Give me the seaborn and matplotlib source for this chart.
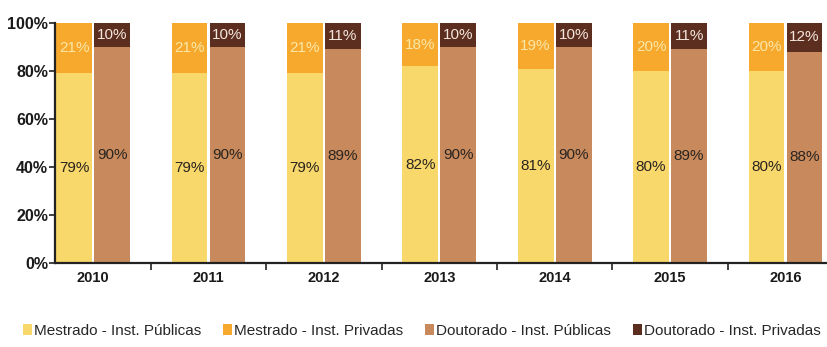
import matplotlib
matplotlib.use("Agg")
import matplotlib.pyplot as plt
import seaborn as sns
import pandas as pd
import numpy as np
from matplotlib.patches import Patch
from matplotlib.ticker import FixedLocator

years = ["2010", "2011", "2012", "2013", "2014", "2015", "2016"]
mestrado_publicas = [79, 79, 79, 82, 81, 80, 80]
mestrado_privadas = [21, 21, 21, 18, 19, 20, 20]
doutorado_publicas = [90, 90, 89, 90, 90, 89, 88]
doutorado_privadas = [10, 10, 11, 10, 10, 11, 12]
series_labels = ["Mestrado - Inst. Públicas", "Mestrado - Inst. Privadas",
                 "Doutorado - Inst. Públicas", "Doutorado - Inst. Privadas"]
yticks = [0, 20, 40, 60, 80, 100]

c_mpub = "#F8D86A"
c_mpriv = "#F6A92C"
c_dpub = "#C88A5C"
c_dpriv = "#5C2E1F"

sns.set_theme(style="white")
plt.rcParams["font.family"] = ["Liberation Sans Narrow", "Liberation Sans", "DejaVu Sans"]

rows = []
for i, y in enumerate(years):
    rows.append(dict(ano=y, nivel="Mestrado", pub=mestrado_publicas[i], priv=mestrado_privadas[i]))
    rows.append(dict(ano=y, nivel="Doutorado", pub=doutorado_publicas[i], priv=doutorado_privadas[i]))
df = pd.DataFrame(rows)
df["total"] = df["pub"] + df["priv"]

fig = plt.figure(figsize=(8.27, 3.47), dpi=100)
ax = fig.add_axes([0.0665, 0.242, 0.9335, 0.692])

sns.barplot(data=df, x="ano", y="total", hue="nivel", hue_order=["Mestrado", "Doutorado"],
            palette=[c_mpriv, c_dpriv], width=0.66, gap=0.06, ax=ax, legend=False,
            saturation=1, errorbar=None, linewidth=0)
sns.barplot(data=df, x="ano", y="pub", hue="nivel", hue_order=["Mestrado", "Doutorado"],
            palette=[c_mpub, c_dpub], width=0.66, gap=0.06, ax=ax, legend=False,
            saturation=1, errorbar=None, linewidth=0)

tot_m, tot_d, pub_m, pub_d = ax.containers[0], ax.containers[1], ax.containers[2], ax.containers[3]

for cont, pubs, privs, pcol, qcol in [
    (pub_m, mestrado_publicas, mestrado_privadas, "#2a2420", "#FBE7A8"),
    (pub_d, doutorado_publicas, doutorado_privadas, "#2a2420", "#F3E6DC"),
]:
    for patch, p, q in zip(cont.patches, pubs, privs):
        cx = patch.get_x() + patch.get_width() / 2
        ax.text(cx, p / 2, f"{p}%", ha="center", va="center", fontsize=11, color=pcol)
        ax.text(cx, p + q / 2, f"{q}%", ha="center", va="center", fontsize=11, color=qcol)

ax.set_ylim(0, 100)
ax.set_xlim(-0.33, 6.36)
ax.set_yticks(yticks)
ax.set_yticklabels([f"{t}%" for t in yticks], fontsize=11.5, fontweight="bold", color="#1a1a1a")
ax.set_xticks(range(len(years)))
ax.set_xticklabels(years, fontsize=10.5, fontweight="bold", color="#1a1a1a")
ax.xaxis.set_minor_locator(FixedLocator(np.arange(0.5, len(years) - 0.5, 1)))
ax.tick_params(axis="x", which="major", length=0, pad=6)
ax.tick_params(axis="x", which="minor", length=5, width=1.2, color="#222222", direction="out", bottom=True)
ax.tick_params(axis="y", length=4, width=1.2, color="#222222", direction="out", left=True, pad=1)
ax.set_xlabel("")
ax.set_ylabel("")
for s in ["top", "right"]:
    ax.spines[s].set_visible(False)
for s in ["left", "bottom"]:
    ax.spines[s].set_color("#222222")
    ax.spines[s].set_linewidth(1.6)
ax.grid(False)

handles = [Patch(facecolor=c, edgecolor="none") for c in [c_mpub, c_mpriv, c_dpub, c_dpriv]]
fig.legend(handles, series_labels, loc="center", bbox_to_anchor=(0.51, 0.047), ncol=4,
           frameon=False, fontsize=11, handlelength=0.6, handleheight=0.8,
           handletextpad=0.15, columnspacing=1.4)

fig.savefig("out.png", dpi=100)
